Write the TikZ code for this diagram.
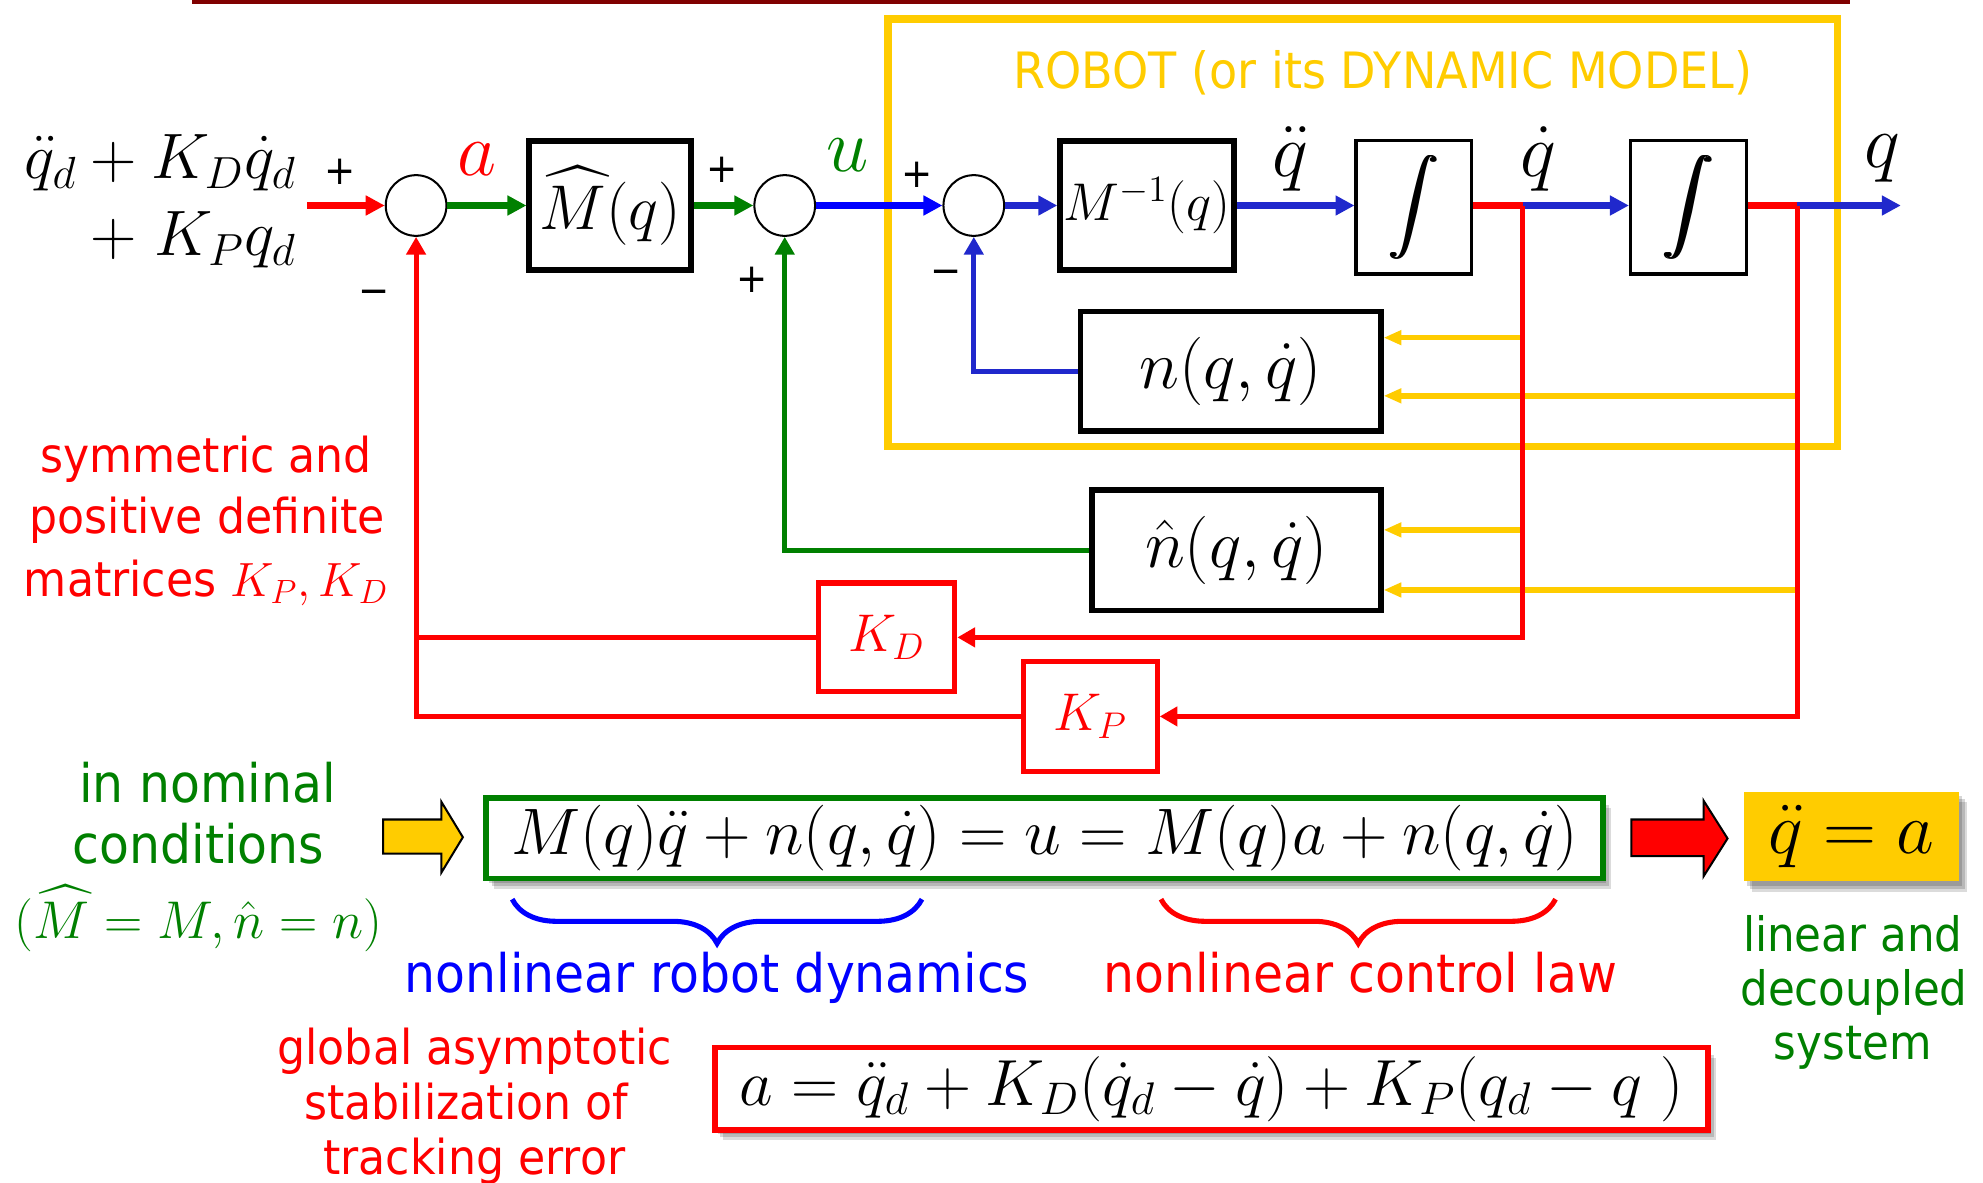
\RequirePackage{fix-cm}
\documentclass[tikz,border=0pt]{standalone}
\usepackage{amsmath}
\usepackage{graphicx}
\usepackage[no-math]{fontspec}
\setmainfont{DejaVu Sans}[FakeStretch=0.92]
\usetikzlibrary{arrows.meta,shadows,decorations.pathreplacing}

\definecolor{cRed}{RGB}{255,0,0}
\definecolor{cGreen}{RGB}{0,128,0}
\definecolor{cBlue}{RGB}{0,0,255}
\definecolor{cRobotBlue}{RGB}{32,40,204}
\definecolor{cGold}{RGB}{255,204,0}
\definecolor{cDarkRed}{RGB}{128,0,0}

% heavy integral sign: the glyph printed three times with small offsets
\newcommand{\heavyint}{%
  \makebox[0pt][l]{\resizebox*{20pt}{41pt}{$\displaystyle\int$}}%
  \hspace{0.5pt}\makebox[0pt][l]{\resizebox*{20pt}{41pt}{$\displaystyle\int$}}%
  \hspace{0.5pt}\resizebox*{20pt}{41pt}{$\displaystyle\int$}}

\tikzset{
  blk/.style={draw=black,line width=2.25pt,fill=white,inner sep=0pt,font=\fontsize{25}{30}\selectfont},
  intblk/.style={draw=black,line width=1.3pt,fill=white,inner sep=0pt},
  gainblk/.style={draw=cRed,line width=2pt,fill=white,inner sep=0pt,text=cRed,font=\fontsize{21}{25}\selectfont},
  sumj/.style={circle,draw=black,line width=0.8pt,minimum size=24pt,inner sep=0pt,fill=white},
  fwd/.style={line width=2.75pt,-{Triangle[length=7.5pt,width=7.5pt]}},
  fwdline/.style={line width=2.75pt},
  fbk/.style={line width=2pt},
  fbkarrow/.style={line width=2pt,-{Triangle[length=7pt,width=7.5pt]}},
  yarrow/.style={draw=cGold,line width=2.2pt,-{Triangle[length=7pt,width=5.5pt]}},
  sig/.style={font=\fontsize{16}{19}\selectfont,inner sep=0pt},
  siglbl/.style={font=\fontsize{30}{36}\selectfont,inner sep=0pt},
  note/.style={inner sep=0pt,anchor=base},
  softshadow/.style={
    drop shadow={shadow xshift=1.2pt,shadow yshift=-1.6pt,opacity=0.16,fill=black},
    drop shadow={shadow xshift=2.2pt,shadow yshift=-2.8pt,opacity=0.16,fill=black},
    drop shadow={shadow xshift=3.2pt,shadow yshift=-4pt,opacity=0.14,fill=black}},
  eqbox/.style={line width=2.25pt,fill=white,inner sep=0pt,font=\fontsize{26}{31}\selectfont,softshadow},
  brc/.style={line width=2pt,decorate,decoration={brace,mirror,amplitude=17.5pt}},
}

\begin{document}
\begin{tikzpicture}[x=0.5pt,y=-0.5pt]
\useasboundingbox (0,0) rectangle (1568,935);

% title rule
\draw[cDarkRed,line width=1.5pt] (152,1.5) -- (1463,1.5);

% robot frame and its caption
\node[draw=cGold,line width=3pt,minimum width=375.5pt,minimum height=169pt,inner sep=0pt] (robot) at (1077.5,184) {};
\node[note,text=cGold,font=\fontsize{19.8}{24}\selectfont] (robotlbl) at (1093.5,70) {ROBOT (or its DYNAMIC MODEL)};

% summing junctions
\node[sumj] (s1) at (329,162.5) {};
\node[sumj] (s2) at (620.5,162.5) {};
\node[sumj] (s3) at (770,162.5) {};

% blocks
\node[blk,minimum width=64pt,minimum height=51pt] (mhat) at (482.5,162.5) {$\widehat{M}(q)$};
\node[blk,minimum width=68.75pt,minimum height=51.25pt,font=\fontsize{21}{25}\selectfont] (minv) at (907,162.5) {$M^{-1}(q)$};
\node[intblk,minimum width=45.7pt,minimum height=52.7pt] (int1) at (1118,164) {\heavyint};
\node[intblk,minimum width=45.7pt,minimum height=52.7pt] (int2) at (1335,164) {\heavyint};
\node[blk,minimum width=118.75pt,minimum height=47.25pt,font=\fontsize{27}{32}\selectfont] (nblk) at (973,293.5) {$n(q,\dot q)$};
\node[blk,minimum width=114.25pt,minimum height=47.75pt,font=\fontsize{27}{32}\selectfont] (nhat) at (977.5,435) {$\hat n(q,\dot q)$};
\node[gainblk,minimum width=54pt,minimum height=43pt] (kd) at (701,504) {$K_D$};
\node[gainblk,minimum width=53pt,minimum height=43.5pt] (kp) at (862,566.5) {$K_P$};

% signal labels
\node[siglbl,text=cRed] (lbla) at (377.5,126) {$a$};
\node[siglbl,text=cGreen] (lblu) at (670.5,122.5) {$u$};
\node[siglbl] (lblqdd) at (1020,125.6) {$\ddot q$};
\node[siglbl] (lblqd) at (1216,125.6) {$\dot q$};
\node[siglbl] (lblq) at (1488,125) {$q$};

% reference input
\node[anchor=east,inner sep=0pt,font=\fontsize{25.4}{30}\selectfont] (ref1) at (234.5,129) {$\ddot q_d + K_D\dot q_d$};
\node[anchor=east,inner sep=0pt,font=\fontsize{25.4}{30}\selectfont] (ref2) at (234.5,190) {${+}\;K_Pq_d$};

% junction signs
\node[sig] (p1) at (269,136) {+};
\node[sig] (m1) at (296,235) {−};
\node[sig] (p2) at (571,134.5) {+};
\node[sig] (p3) at (595,221) {+};
\node[sig] (p4) at (725,138) {+};
\node[sig] (m3) at (748,219) {−};

% branch points
\coordinate (inp) at (243,162.5);
\coordinate (j1) at (1204,162.5);
\coordinate (j2) at (1421,162.5);
\coordinate (qout) at (1503,162.5);
\coordinate (yA) at (1204,267);
\coordinate (yB) at (1421,313);
\coordinate (yC) at (1204,419);
\coordinate (yD) at (1421,466.5);

% state feeds into the nonlinear terms
\draw[yarrow] (yA) -- (yA -| nblk.east);
\draw[yarrow] (yB) -- (yB -| nblk.east);
\draw[yarrow] (yC) -- (yC -| nhat.east);
\draw[yarrow] (yD) -- (yD -| nhat.east);

% forward path
\draw[fwd,cRed] (inp) -- (s1.west);
\draw[fwd,cGreen] (s1.east) -- (mhat.west);
\draw[fwd,cGreen] (mhat.east) -- (s2.west);
\draw[fwd,cBlue] (s2.east) -- (s3.west);
\draw[fwd,cRobotBlue] (s3.east) -- (minv.west);
\draw[fwd,cRobotBlue] (minv.east) -- (int1.west |- minv.east);
\draw[fwdline,cRed] (int1.east |- j1) -- (j1);
\draw[fwd,cRobotBlue] (j1) -- (int2.west |- j1);
\draw[fwdline,cRed] (int2.east |- j2) -- (j2);
\draw[fwd,cRobotBlue] (j2) -- (qout);

% PD feedback
\draw[fbkarrow,cRed] (j1) -- (j1 |- kd.east) -- (kd.east);
\draw[fbkarrow,cRed] (j2) -- (j2 |- kp.east) -- (kp.east);
\draw[fbk,cRed] (kd.west) -- (kd.west -| s1.south);
\draw[fbkarrow,cRed] (kp.west) -- (kp.west -| s1.south) -- (s1.south);

% nonlinear feedback loops
\draw[fbkarrow,cRobotBlue] (nblk.west) -- (nblk.west -| s3.south) -- (s3.south);
\draw[fbkarrow,cGreen] (nhat.west) -- (nhat.west -| s2.south) -- (s2.south);

% left notes
\node[note,text=cRed,font=\fontsize{19}{24}\selectfont] (gainA) at (163,373.7) {symmetric and};
\node[note,text=cRed,font=\fontsize{19}{24}\selectfont] (gainB) at (164,421.6) {positive definite};
\node[note,text=cRed,font=\fontsize{19}{24}\selectfont] (gainC) at (163,471.8) {matrices $K_P, K_D$};

\node[note,text=cGreen,font=\fontsize{21}{26}\selectfont] (nomA) at (164,634.7) {in nominal};
\node[note,text=cGreen,font=\fontsize{21}{26}\selectfont] (nomB) at (157,682.6) {conditions};
\node[inner sep=0pt,text=cGreen,font=\fontsize{21}{26}\selectfont] (nomC) at (157,726) {$(\widehat{M} = M, \hat n = n)$};

% block arrows
\filldraw[fill=cGold,draw=black,line width=0.8pt] (303,648) -- (349,648) -- (349,634) -- (366,662) -- (349,690) -- (349,675) -- (303,675) -- cycle;
\filldraw[fill=cRed,draw=black,line width=0.8pt] (1290,648) -- (1347,648) -- (1347,633) -- (1366,663) -- (1347,693) -- (1347,677) -- (1290,677) -- cycle;

% equations
\node[eqbox,draw=cGreen,minimum width=441.75pt,minimum height=31.75pt] (eqdyn) at (826,663) {$M(q)\ddot q + n(q,\dot q) = u = M(q)a + n(q,\dot q)$};
\node[eqbox,draw=none,fill=cGold,minimum width=85pt,minimum height=35.5pt,font=\fontsize{29}{34}\selectfont] (eqlin) at (1464,661.5) {$\ddot q = a$};
\node[eqbox,draw=cRed,minimum width=392.75pt,minimum height=32.75pt,font=\fontsize{25.8}{31}\selectfont] (eqlaw) at (958,861) {$a = \ddot q_d + K_D(\dot q_d - \dot q) + K_P(q_d - q\;)$};

% braces and their captions
\draw[brc,cBlue] (405,711) -- (729,711);
\draw[brc,cRed] (918,711) -- (1230,711);
\node[note,text=cBlue,font=\fontsize{21}{26}\selectfont] (capdyn) at (567,785) {nonlinear robot dynamics};
\node[note,text=cRed,font=\fontsize{21}{26}\selectfont] (caplaw) at (1075.5,785) {nonlinear control law};

% right notes
\node[note,text=cGreen,font=\fontsize{18.75}{23}\selectfont] (linA) at (1465,752.5) {linear and};
\node[note,text=cGreen,font=\fontsize{18.75}{23}\selectfont] (linB) at (1466,794.7) {decoupled};
\node[note,text=cGreen,font=\fontsize{18.75}{23}\selectfont] (linC) at (1465,838) {system};

% bottom left notes
\node[note,text=cRed,font=\fontsize{19}{24}\selectfont] (gasA) at (375.5,842) {global asymptotic};
\node[note,text=cRed,font=\fontsize{19}{24}\selectfont] (gasB) at (368.5,885.6) {stabilization of};
\node[note,text=cRed,font=\fontsize{19}{24}\selectfont] (gasC) at (375,929) {tracking error};
\end{tikzpicture}
\end{document}
